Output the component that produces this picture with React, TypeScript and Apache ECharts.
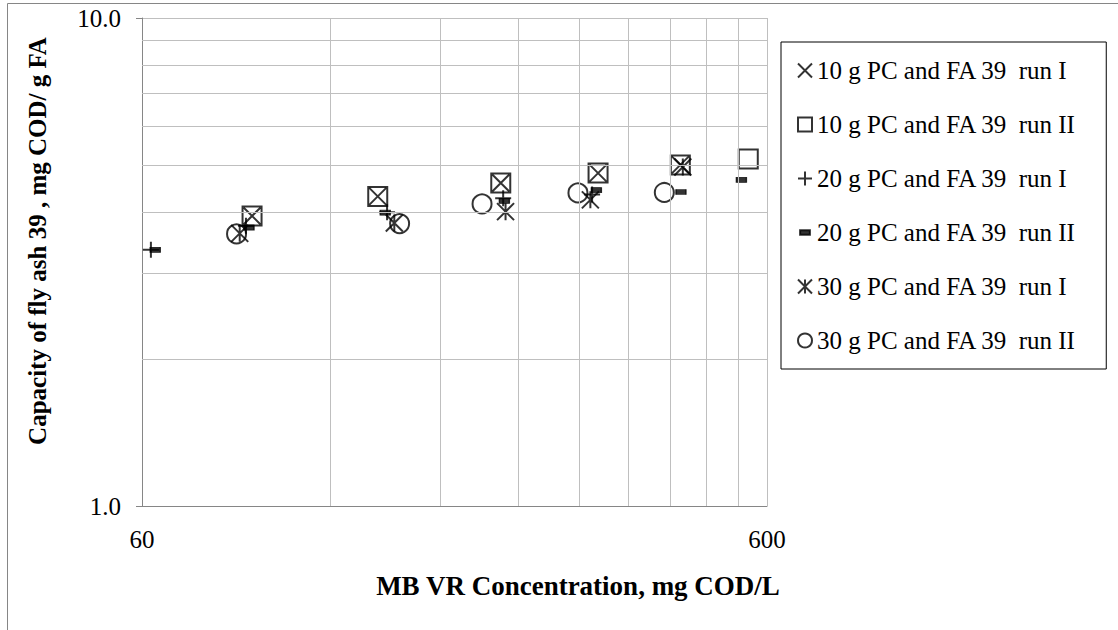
import React, { useEffect, useRef } from "react";
import * as echarts from "echarts";

// ---- data ----
const seriesNames = [
  "10 g PC and FA 39  run I",
  "10 g PC and FA 39  run II",
  "20 g PC and FA 39  run I",
  "20 g PC and FA 39  run II",
  "30 g PC and FA 39  run I",
  "30 g PC and FA 39  run II",
];
const pc10run1X = [90, 143, 225, 322, 436];
const pc10run1Y = [3.93, 4.31, 4.59, 4.81, 5.0];
const pc10run2X = [90, 143, 225, 322, 436, 560];
const pc10run2Y = [3.93, 4.31, 4.59, 4.81, 5.0, 5.14];
const pc20run1X = [62, 88, 148, 227, 315];
const pc20run1Y = [3.35, 3.75, 4.0, 4.27, 4.35];
const pc20run2X = [63, 89, 147, 228, 320, 437, 546];
const pc20run2Y = [3.35, 3.72, 3.99, 4.22, 4.44, 4.4, 4.66];
const pc30run1X = [86, 152, 229, 313, 440];
const pc30run1Y = [3.62, 3.8, 4.01, 4.24, 4.95];
const pc30run2X = [85, 155, 210, 299, 411];
const pc30run2Y = [3.61, 3.79, 4.16, 4.38, 4.39];

const xTitle = "MB VR Concentration, mg COD/L";
const yTitle = "Capacity of fly ash 39 , mg COD/ g FA";
const xMin = 60;
const xMax = 600;
const yMin = 1;
const yMax = 10;
const xTickLabels = [60, 600];
const xMinorGrid = [120, 180, 240, 300, 360, 420, 480, 540, 600];
const yMinorGrid = [2, 3, 4, 5, 6, 7, 8, 9];

const FONT = "'Liberation Serif', 'Times New Roman', serif";
const FS = 25;

const SYM_X = "path://M0,0L10,10M10,0L0,10";
const SYM_PLUS = "path://M5,0L5,10M0,5L10,5";
const SYM_STAR = "path://M0,0L10,10M10,0L0,10M5,0L5,10";
const SYM_DASH_ICON = "path://M0,0L0.01,0M1.5,3.4L8.5,3.4L8.5,6.6L1.5,6.6ZM10,10L9.99,10";

const zip = (xs: number[], ys: number[]) => xs.map((x, i) => [x, ys[i]]);

export default function App() {
  const ref = useRef<HTMLDivElement>(null);
  useEffect(() => {
    if (!ref.current) return;
    const chart = echarts.init(ref.current, null, { renderer: "svg" });
    const hollow = { color: "rgba(0,0,0,0)", borderColor: "#000", borderWidth: 2 };
    const option: any = {
      animation: false,
      backgroundColor: "#fff",
      grid: { left: 142, right: 1118 - 767, top: 18, bottom: 630 - 506, containLabel: false },
      xAxis: {
        type: "log",
        logBase: 10,
        min: xMin,
        max: xMax,
        axisLine: { show: true, lineStyle: { color: "#868686", width: 1 } },
        axisTick: { show: false },
        splitLine: { show: false },
        axisLabel: {
          fontFamily: FONT,
          fontSize: FS,
          color: "#000",
          margin: 21,
          formatter: (v: number) => {
            const r = Math.round(v);
            return xTickLabels.includes(r) ? String(r) : "";
          },
        },
      },
      yAxis: {
        type: "log",
        logBase: 10,
        min: yMin,
        max: yMax,
        axisLine: { show: true, lineStyle: { color: "#868686", width: 1 } },
        axisTick: { show: true, length: 6, inside: false, lineStyle: { color: "#868686" } },
        splitLine: { show: true, lineStyle: { color: "#bfbfbf", width: 1 } },
        axisLabel: {
          fontFamily: FONT,
          fontSize: FS,
          color: "#000",
          margin: 21,
          formatter: (v: number) => v.toFixed(1),
        },
      },
      legend: {
        orient: "vertical",
        left: 781,
        top: 42,
        itemWidth: 14,
        itemHeight: 14,
        itemGap: 29,
        padding: [16, 30, 16, 16],
        borderColor: "#000",
        borderWidth: 1,
        textStyle: { fontFamily: FONT, fontSize: FS, color: "#000" },
        itemStyle: { borderWidth: 2 },
        data: [
          { name: seriesNames[0], icon: SYM_X },
          { name: seriesNames[1], icon: "rect" },
          { name: seriesNames[2], icon: SYM_PLUS },
          { name: seriesNames[3], icon: SYM_DASH_ICON },
          { name: seriesNames[4], icon: SYM_STAR },
          { name: seriesNames[5], icon: "circle" },
        ],
        selectedMode: false,
      },
      graphic: [
        {
          type: "rect",
          shape: { x: 7.5, y: 3.5, width: 1200, height: 700 },
          style: { fill: "none", stroke: "#868686", lineWidth: 1 },
          silent: true,
          z: -10,
        },
        {
          type: "text",
          x: 578,
          y: 586,
          silent: true,
          style: {
            text: xTitle,
            font: `bold 27px ${FONT}`,
            fill: "#000",
            textAlign: "center",
            textVerticalAlign: "middle",
          },
        },
        {
          type: "text",
          x: 37,
          y: 241,
          rotation: Math.PI / 2,
          silent: true,
          style: {
            text: yTitle,
            font: `bold 25px ${FONT}`,
            fill: "#000",
            textAlign: "center",
            textVerticalAlign: "middle",
          },
        },
      ],
      series: [
        {
          name: "grid",
          type: "scatter",
          data: [[100, 2]],
          symbolSize: 0,
          silent: true,
          z: 1,
          markLine: {
            silent: true,
            symbol: ["none", "none"],
            label: { show: false },
            lineStyle: { color: "#bfbfbf", type: "solid", width: 1 },
            emphasis: { disabled: true },
            data: [
              ...xMinorGrid.map((v) => ({ xAxis: v })),
              ...yMinorGrid.map((v) => ({ yAxis: v })),
            ],
          },
        },
        {
          name: seriesNames[0],
          type: "scatter",
          z: 3,
          symbol: SYM_X,
          symbolSize: 17,
          itemStyle: hollow,
          data: zip(pc10run1X, pc10run1Y),
        },
        {
          name: seriesNames[1],
          type: "scatter",
          z: 3,
          symbol: "rect",
          symbolSize: 19,
          itemStyle: hollow,
          data: zip(pc10run2X, pc10run2Y),
        },
        {
          name: seriesNames[2],
          type: "scatter",
          z: 3,
          symbol: SYM_PLUS,
          symbolSize: 16,
          itemStyle: hollow,
          data: zip(pc20run1X, pc20run1Y),
        },
        {
          name: seriesNames[3],
          type: "scatter",
          z: 3,
          symbol: "rect",
          symbolSize: [10, 5],
          itemStyle: { color: "#000", borderColor: "#000", borderWidth: 1 },
          data: zip(pc20run2X, pc20run2Y),
        },
        {
          name: seriesNames[4],
          type: "scatter",
          z: 3,
          symbol: SYM_STAR,
          symbolSize: 17,
          itemStyle: hollow,
          data: zip(pc30run1X, pc30run1Y),
        },
        {
          name: seriesNames[5],
          type: "scatter",
          z: 3,
          symbol: "circle",
          symbolSize: 19,
          itemStyle: hollow,
          data: zip(pc30run2X, pc30run2Y),
        },
      ],
    };
    chart.setOption(option);
    return () => chart.dispose();
  }, []);
  return (
    <div
      ref={ref}
      style={{ position: "fixed", left: 0, top: 0, width: 1118, height: 630 }}
    />
  );
}
